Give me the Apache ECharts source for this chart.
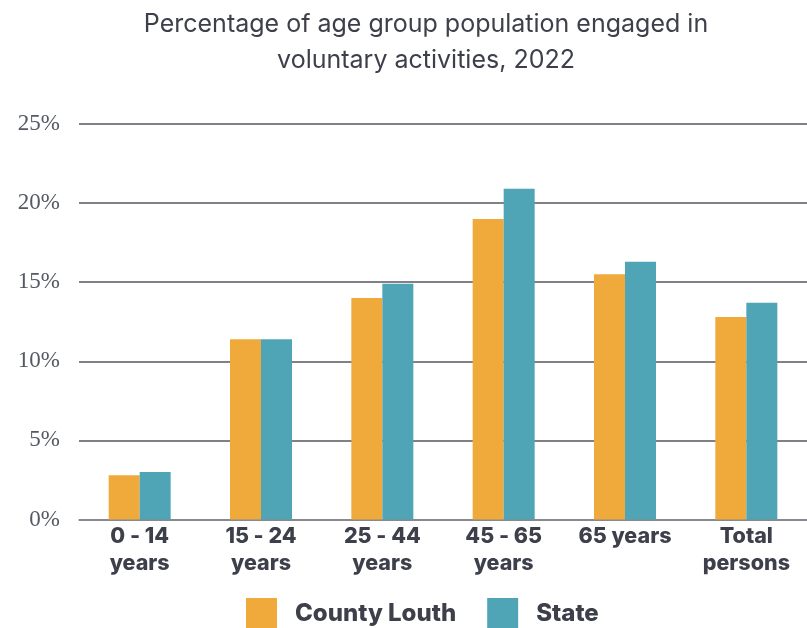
<!DOCTYPE html>
<head>
    <meta charset="utf-8">
    <title>ECharts</title>
    <script type="text/javascript" src="https://cdn.jsdelivr.net/npm/echarts@6/dist/echarts.min.js"></script>
    <style>
        html, body { margin: 0; padding: 0; background: #fff; }
    </style>
</head>

<body>
<div id="main" style="width:807px;height:628px"></div>

<script type="text/javascript">
    // categories and values (percent)
    var categories = ['0 - 14\nyears', '15 - 24\nyears', '25 - 44\nyears', '45 - 65\nyears', '65 years', 'Total\npersons'];
    var countyLouth = [2.8, 11.4, 14.0, 19.0, 15.5, 12.8];
    var stateValues = [3.0, 11.4, 14.9, 20.9, 16.3, 13.7];
    var yTicks = [0, 5, 10, 15, 20, 25];

    var textColor = '#3d3f4a';
    var myChart = echarts.init(document.getElementById('main'));

    var option = {
        animation: false,
        title: {
            text: 'Percentage of age group population engaged in\nvoluntary activities, 2022',
            left: 421,
            textAlign: 'center',
            top: 1,
            textStyle: {
                fontFamily: 'Inter',
                fontWeight: 'normal',
                fontSize: 25,
                lineHeight: 36,
                color: textColor
            }
        },
        legend: {
            data: ['County Louth', 'State'],
            left: 246,
            top: 598,
            padding: 0,
            itemWidth: 31,
            itemHeight: 31,
            itemGap: 31,
            icon: 'rect',
            textStyle: {
                fontFamily: 'Inter',
                fontWeight: 800,
                fontSize: 24,
                color: textColor,
                padding: [0, 0, 0, 13]
            }
        },
        grid: {
            left: 79,
            right: -3,
            top: 124,
            bottom: 108.5
        },
        xAxis: {
            type: 'category',
            data: categories,
            axisTick: { show: false },
            axisLine: { lineStyle: { color: '#8a8c93', width: 1.5 } },
            axisLabel: {
                fontFamily: 'Inter',
                fontWeight: 800,
                fontSize: 21.5,
                lineHeight: 27,
                color: textColor,
                margin: 4
            }
        },
        yAxis: {
            type: 'value',
            min: yTicks[0],
            max: yTicks[yTicks.length - 1],
            interval: 5,
            axisLabel: {
                formatter: '{value}%',
                fontFamily: 'Liberation Serif',
                fontSize: 23,
                color: '#555962',
                margin: 19
            },
            splitLine: { lineStyle: { color: '#55575f', width: 1.5 } }
        },
        series: [
            {
                name: 'County Louth',
                type: 'bar',
                data: countyLouth,
                barWidth: 31,
                barGap: '0%',
                itemStyle: { color: '#f0aa3c' }
            },
            {
                name: 'State',
                type: 'bar',
                data: stateValues,
                barWidth: 31,
                itemStyle: { color: '#4fa5b6' }
            }
        ]
    };

    myChart.setOption(option);
</script>
</body>
